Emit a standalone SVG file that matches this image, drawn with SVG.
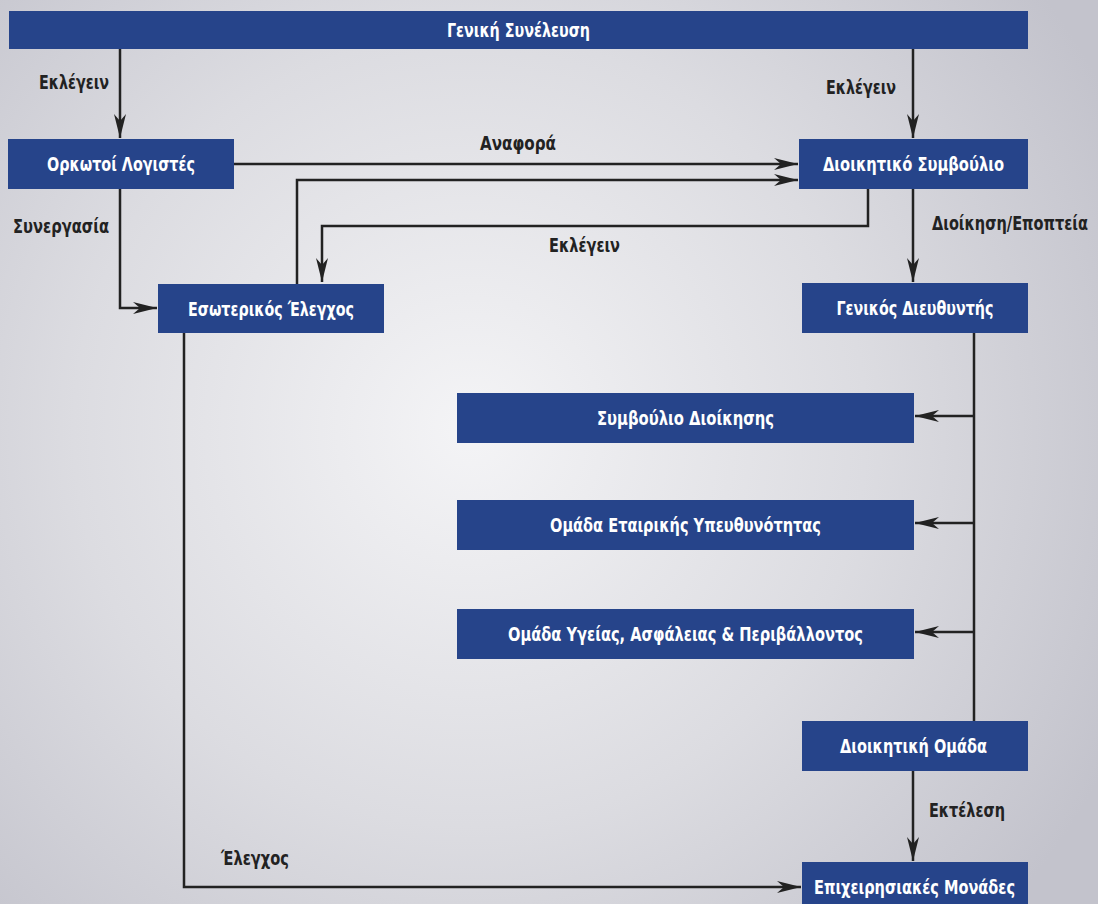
<svg xmlns="http://www.w3.org/2000/svg" width="1098" height="904" viewBox="0 0 1098 904">
<defs>
<radialGradient id="bg" cx="470" cy="430" r="720" gradientUnits="userSpaceOnUse">
<stop offset="0" stop-color="#f4f4f6"/>
<stop offset="0.55" stop-color="#dcdce1"/>
<stop offset="1" stop-color="#c3c3cc"/>
</radialGradient>
<marker id="ah" markerUnits="userSpaceOnUse" markerWidth="26" markerHeight="14" refX="24" refY="7" orient="auto">
<path d="M0,1 L24,7 L0,13 L7,7 z" fill="#222"/>
</marker>
<style>
.box{fill:#26448a}
.t{font-family:"DejaVu Sans Condensed","DejaVu Sans",sans-serif;font-stretch:condensed;font-weight:bold;font-size:19.5px;fill:#fff;text-anchor:middle}
.l{font-family:"DejaVu Sans Condensed","DejaVu Sans",sans-serif;font-stretch:condensed;font-weight:bold;font-size:19.5px;fill:#222}
.c{fill:none;stroke:#222;stroke-width:2.5}
.a{marker-end:url(#ah)}
</style>
</defs>
<rect width="1098" height="904" fill="url(#bg)"/>
<g id="connectors">
<path class="c a" d="M120,49 V138"/>
<path class="c a" d="M913,49 V138"/>
<path class="c a" d="M234,164 H798"/>
<path class="c a" d="M297,284 V180 H798"/>
<path class="c a" d="M868,189 V226 H322 V282"/>
<path class="c a" d="M120,189 V308 H157"/>
<path class="c a" d="M913,189 V282"/>
<path class="c" d="M974,333 V721"/>
<path class="c a" d="M974,416 H915"/>
<path class="c a" d="M974,523 H915"/>
<path class="c a" d="M974,632 H915"/>
<path class="c a" d="M913,771 V861"/>
<path class="c a" d="M184,333 V887 H801"/>
<text class="l" x="39" y="89" textLength="70" lengthAdjust="spacingAndGlyphs">Εκλέγειν</text>
<text class="l" x="826" y="94" textLength="70" lengthAdjust="spacingAndGlyphs">Εκλέγειν</text>
<text class="l" x="480" y="150" textLength="76" lengthAdjust="spacingAndGlyphs">Αναφορά</text>
<text class="l" x="549" y="252" textLength="71" lengthAdjust="spacingAndGlyphs">Εκλέγειν</text>
<text class="l" x="13" y="233" textLength="96" lengthAdjust="spacingAndGlyphs">Συνεργασία</text>
<text class="l" x="1088" y="230" text-anchor="end" textLength="156" lengthAdjust="spacingAndGlyphs">Διοίκηση/Εποπτεία</text>
<text class="l" x="929" y="817" textLength="76" lengthAdjust="spacingAndGlyphs">Εκτέλεση</text>
<text class="l" x="221" y="865" textLength="68" lengthAdjust="spacingAndGlyphs">Έλεγχος</text>
</g>
<g id="n-general">
<rect class="box" x="9" y="11" width="1019" height="38"/>
<text class="t" x="518.5" y="37" textLength="143" lengthAdjust="spacingAndGlyphs">Γενική Συνέλευση</text>
</g>
<g id="n-auditors">
<rect class="box" x="8" y="139" width="226" height="50"/>
<text class="t" x="121" y="171" textLength="148" lengthAdjust="spacingAndGlyphs">Ορκωτοί Λογιστές</text>
</g>
<g id="n-board">
<rect class="box" x="799" y="139" width="229" height="50"/>
<text class="t" x="913.5" y="171" textLength="181" lengthAdjust="spacingAndGlyphs">Διοικητικό Συμβούλιο</text>
</g>
<g id="n-internal">
<rect class="box" x="158" y="284" width="226" height="49"/>
<text class="t" x="271" y="316" textLength="166" lengthAdjust="spacingAndGlyphs">Εσωτερικός Έλεγχος</text>
</g>
<g id="n-gm">
<rect class="box" x="802" y="283" width="226" height="50"/>
<text class="t" x="915" y="315" textLength="157" lengthAdjust="spacingAndGlyphs">Γενικός Διευθυντής</text>
</g>
<g id="n-mgmt-council">
<rect class="box" x="457" y="393" width="457" height="50"/>
<text class="t" x="685.5" y="425" textLength="177" lengthAdjust="spacingAndGlyphs">Συμβούλιο Διοίκησης</text>
</g>
<g id="n-csr">
<rect class="box" x="457" y="500" width="457" height="50"/>
<text class="t" x="685.5" y="532" textLength="271" lengthAdjust="spacingAndGlyphs">Ομάδα Εταιρικής Υπευθυνότητας</text>
</g>
<g id="n-hse">
<rect class="box" x="457" y="609" width="457" height="50"/>
<text class="t" x="685.5" y="641" textLength="355" lengthAdjust="spacingAndGlyphs">Ομάδα Υγείας, Ασφάλειας &amp; Περιβάλλοντος</text>
</g>
<g id="n-exec-team">
<rect class="box" x="802" y="721" width="226" height="50"/>
<text class="t" x="913.5" y="753" textLength="147" lengthAdjust="spacingAndGlyphs">Διοικητική Ομάδα</text>
</g>
<g id="n-units">
<rect class="box" x="802" y="862" width="226" height="50"/>
<text class="t" x="914.5" y="894" textLength="201" lengthAdjust="spacingAndGlyphs">Επιχειρησιακές Μονάδες</text>
</g>
</svg>
